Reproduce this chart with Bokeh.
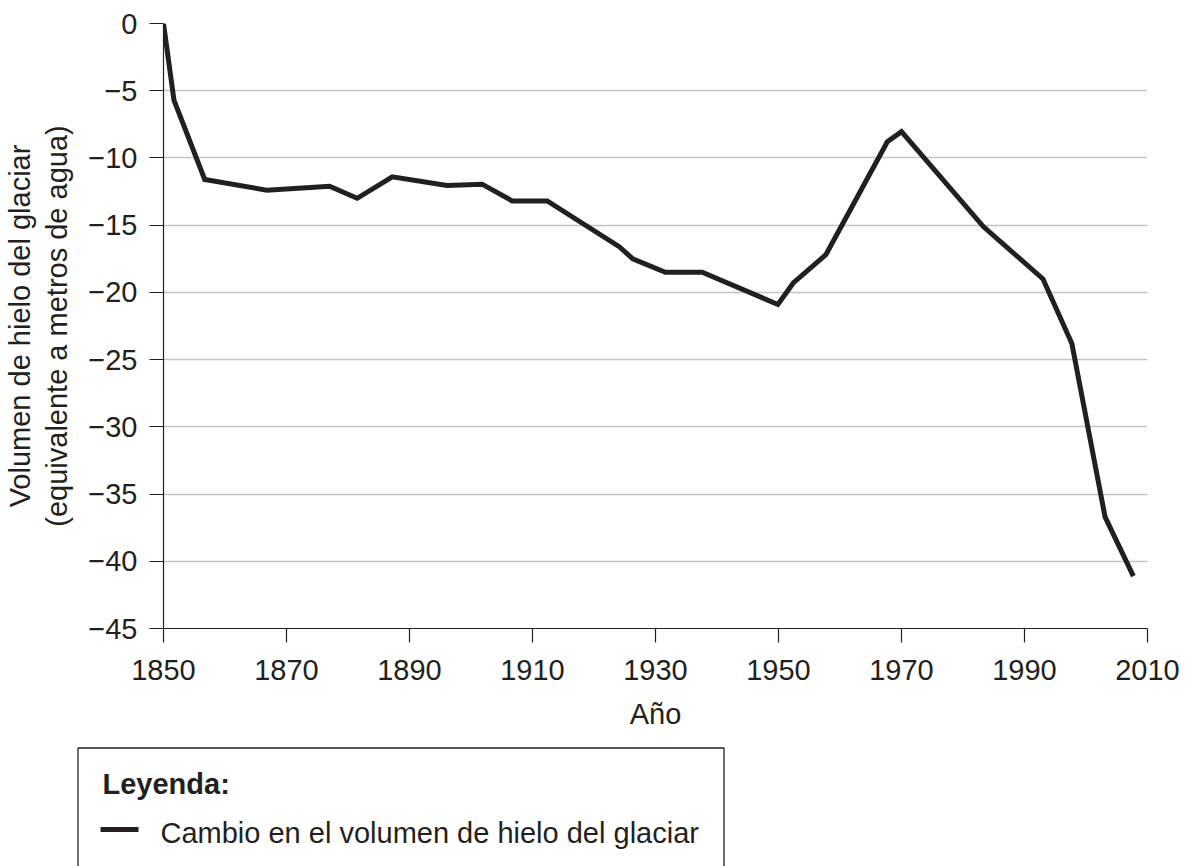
from bokeh.plotting import figure
from bokeh.layouts import column
from bokeh.models import Range1d, FixedTicker
from bokeh.core.properties import value
from bokeh.embed import file_html
from bokeh.resources import INLINE

# ---- data ----
years = [1850, 1851.7, 1856.7, 1866.8, 1877.0, 1881.5, 1887.2, 1896.1, 1901.8,
         1906.7, 1912.4, 1924.1, 1926.3, 1931.6, 1937.6, 1949.9, 1952.4, 1957.7,
         1967.7, 1970.0, 1983.3, 1993.0, 1997.7, 2003.1, 2007.7]
volume = [0, -5.7, -11.6, -12.4, -12.1, -13.0, -11.4, -12.05, -11.95,
          -13.2, -13.2, -16.6, -17.5, -18.5, -18.5, -20.9, -19.3, -17.2,
          -8.8, -8.05, -15.1, -19.0, -23.8, -36.7, -41.1]
x_ticks = [1850, 1870, 1890, 1910, 1930, 1950, 1970, 1990, 2010]
y_ticks = [0, -5, -10, -15, -20, -25, -30, -35, -40, -45]
y_tick_labels = ["0", "\u22125", "\u221210", "\u221215", "\u221220", "\u221225",
                 "\u221230", "\u221235", "\u221240", "\u221245"]
x_title = "Año"
y_title = "Volumen de hielo del glaciar\n(equivalente a metros de agua)"
legend_title = "Leyenda:"
series_name = "Cambio en el volumen de hielo del glaciar"

INK = "#231f20"
FONT = "Liberation Sans"
FS = "29px"

W = 1194
p = figure(width=W, height=740, output_backend="svg", toolbar_location=None,
           x_range=Range1d(1850, 2010), y_range=Range1d(-45, 0),
           min_border_left=163, min_border_right=47, min_border_top=23,
           min_border_bottom=112)
p.frame_align = False
p.outline_line_color = None
p.xgrid.grid_line_color = None
p.ygrid.grid_line_color = "#c4c4c4"
p.ygrid.grid_line_width = 1.5
p.ygrid.ticker = FixedTicker(ticks=y_ticks)

p.xaxis.ticker = FixedTicker(ticks=x_ticks)
p.yaxis.ticker = FixedTicker(ticks=y_ticks)
p.yaxis.major_label_overrides = {t: s for t, s in zip(y_ticks, y_tick_labels)}
for ax in (p.xaxis[0], p.yaxis[0]):
    ax.axis_line_color = INK
    ax.axis_line_width = 1.2
    ax.major_tick_line_color = INK
    ax.major_tick_line_width = 1.2
    ax.major_tick_in = 0
    ax.major_tick_out = 14
    ax.minor_tick_line_color = None
    ax.major_label_text_font = FONT
    ax.major_label_text_font_size = FS
    ax.major_label_text_color = INK
    ax.axis_label_text_font = FONT
    ax.axis_label_text_font_size = FS
    ax.axis_label_text_font_style = "normal"
    ax.axis_label_text_color = INK
p.xaxis.major_label_standoff = 17
p.xaxis.axis_label_standoff = 15
p.yaxis.major_label_standoff = 12
p.yaxis.axis_label_standoff = 12
p.yaxis.axis_label_text_line_height = 1.17
p.xaxis.axis_label = x_title
p.yaxis.axis_label = y_title

p.line(years, volume, line_color=INK, line_width=5, line_join="miter")

# ---- legend panel ----
LH = 126
q = figure(width=W, height=LH, output_backend="svg", toolbar_location=None,
           x_range=Range1d(0, W), y_range=Range1d(LH, 0),
           x_axis_location=None, y_axis_location=None,
           min_border=0)
q.frame_align = False
q.outline_line_color = None
q.grid.visible = False
q.multi_line(xs=[[77.5, 77.5, 723.5, 723.5]], ys=[[LH + 5, 7.5, 7.5, LH + 5]],
             line_color=INK, line_width=1.3)
q.text(x=[102], y=[43.5], text=[legend_title], text_font=value(FONT),
       text_font_size=FS, text_font_style="bold", text_color=INK,
       text_baseline="middle")
q.segment(x0=[100], y0=[89], x1=[138], y1=[89], line_color=INK, line_width=5)
q.text(x=[160], y=[92], text=[series_name], text_font=value(FONT),
       text_font_size=FS, text_color=INK, text_baseline="middle")

layout = column(p, q, spacing=0)
open("out.html", "w").write(file_html(layout, INLINE))
